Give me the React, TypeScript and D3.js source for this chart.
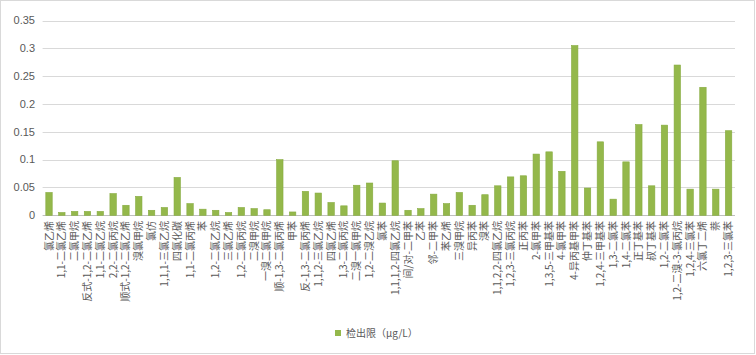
import { useEffect, useRef } from 'react';
import * as d3 from 'd3';

const categories = [
    '氯乙烯', '1,1-二氯乙烯', '二氯甲烷', '反式-1,2-二氯乙烯', '1,1-二氯乙烷', '2,2-二氯丙烷',
    '顺式-1,2-二氯乙烯', '溴氯甲烷', '氯仿', '1,1,1-三氯乙烷', '四氯化碳', '1,1-二氯丙烯',
    '苯', '1,2-二氯乙烷', '三氯乙烯', '1,2-二氯丙烷', '二溴甲烷', '一溴二氯甲烷',
    '顺-1,3-二氯丙烯', '甲苯', '反-1,3-二氯丙烯', '1,1,2-三氯乙烷', '四氯乙烯', '1,3-二氯丙烷',
    '二溴一氯甲烷', '1,2-二溴乙烷', '氯苯', '1,1,1,2-四氯乙烷', '间/对-二甲苯', '乙苯',
    '邻-二甲苯', '苯乙烯', '三溴甲烷', '异丙苯', '溴苯', '1,1,2,2-四氯乙烷',
    '1,2,3-三氯丙烷', '正丙苯', '2-氯甲苯', '1,3,5-三甲基苯', '4-氯甲苯', '4-异丙基甲苯',
    '仲丁基苯', '1,2,4-三甲基苯', '1,3-二氯苯', '1,4-二氯苯', '正丁基苯', '叔丁基苯',
    '1,2-二氯苯', '1,2-二溴-3-氯丙烷', '1,2,4-三氯苯', '六氯丁二烯', '萘', '1,2,3-三氯苯',
];

const detectionLimits = [
    0.041, 0.005, 0.007, 0.007, 0.007, 0.039,
    0.018, 0.034, 0.009, 0.014, 0.068, 0.021,
    0.011, 0.009, 0.005, 0.014, 0.012, 0.010,
    0.1, 0.006, 0.043, 0.040, 0.023, 0.017,
    0.054, 0.058, 0.022, 0.098, 0.009, 0.012,
    0.038, 0.021, 0.041, 0.018, 0.037, 0.053,
    0.069, 0.071, 0.110, 0.114, 0.079, 0.305,
    0.049, 0.132, 0.029, 0.096, 0.163, 0.053,
    0.162, 0.270, 0.047, 0.230, 0.047, 0.152,
];

const yTicks = [0, 0.05, 0.1, 0.15, 0.2, 0.25, 0.3, 0.35];
const seriesName = '检出限（μg/L）';

const WIDTH = 756;
const HEIGHT = 355;
const BAR_FILL = '#94b84b';
const TEXT_COLOR = '#595959';
const CJK_FONT = '"Noto Sans CJK SC", "Liberation Sans", sans-serif';

export default function App() {
    const svgRef = useRef<SVGSVGElement | null>(null);

    useEffect(() => {
        if (!svgRef.current) {
            return;
        }
        const svg = d3.select(svgRef.current);
        svg.selectAll('*').remove();

        const plotLeft = 42.6;
        const plotRight = 735;
        const plotTop = 20.5;
        const plotBottom = 215.3;

        const x = d3.scaleBand<string>().domain(categories).range([plotLeft, plotRight]).paddingInner(0.5).paddingOuter(0.25);
        const y = d3.scaleLinear().domain([0, 0.35]).range([plotBottom, plotTop]);

        // chart area border
        svg.append('rect')
            .attr('x', 0.5)
            .attr('y', 0.5)
            .attr('width', WIDTH - 2)
            .attr('height', HEIGHT - 2)
            .attr('fill', '#fff')
            .attr('stroke', '#d9d9d9');

        svg.append('g')
            .selectAll('line')
            .data(yTicks)
            .join('line')
            .attr('x1', plotLeft)
            .attr('x2', plotRight)
            .attr('y1', (d) => Math.round(y(d)) + 0.5)
            .attr('y2', (d) => Math.round(y(d)) + 0.5)
            .attr('stroke', (d) => (d === 0 ? '#bfbfbf' : '#d9d9d9'))
            .attr('stroke-width', 1);

        svg.append('g')
            .selectAll('text')
            .data(yTicks)
            .join('text')
            .attr('x', 35)
            .attr('y', (d) => y(d))
            .attr('dy', '0.35em')
            .attr('text-anchor', 'end')
            .attr('font-family', '"Liberation Sans", Arial, sans-serif')
            .attr('font-size', 11)
            .attr('fill', TEXT_COLOR)
            .text((d) => String(d));

        svg.append('g')
            .selectAll('rect')
            .data(categories)
            .join('rect')
            .attr('x', (d) => x(d) ?? 0)
            .attr('width', x.bandwidth())
            .attr('y', (d, i) => y(detectionLimits[i]))
            .attr('height', (d, i) => plotBottom - y(detectionLimits[i]))
            .attr('fill', BAR_FILL)
            .attr('stroke', '#86ab3f')
            .attr('stroke-width', 0.6);

        // rotated category labels, reading bottom to top
        svg.append('g')
            .selectAll('text')
            .data(categories)
            .join('text')
            .attr('transform', (d) => `translate(${(x(d) ?? 0) + x.bandwidth() / 2}, 221) rotate(-90)`)
            .attr('dy', '0.35em')
            .attr('text-anchor', 'end')
            .attr('font-family', CJK_FONT)
            .attr('font-size', 10)
            .attr('fill', TEXT_COLOR)
            .text((d) => d);

        const legend = svg.append('g').attr('transform', 'translate(335, 330)');
        legend.append('rect').attr('width', 6).attr('height', 6).attr('fill', BAR_FILL);
        legend.append('text')
            .attr('x', 11)
            .attr('y', 3)
            .attr('dy', '0.35em')
            .attr('font-family', CJK_FONT)
            .attr('font-size', 10)
            .attr('fill', TEXT_COLOR)
            .text(seriesName);
    }, []);

    return (
        <svg
            ref={svgRef}
            width={WIDTH}
            height={HEIGHT}
            style={{ position: 'absolute', left: 0, top: 0, background: '#fff' }}
        />
    );
}
